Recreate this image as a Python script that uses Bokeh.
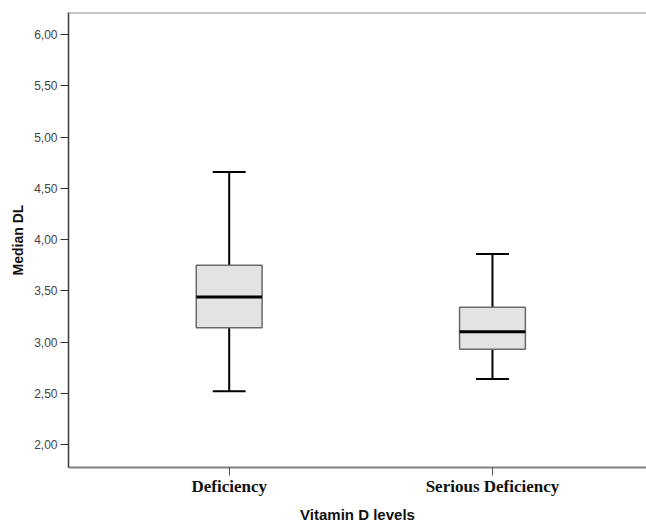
import pandas as pd
from bokeh.plotting import figure
from bokeh.models import ColumnDataSource, FixedTicker, CustomJSTickFormatter, Range1d, Span
from bokeh.embed import file_html
from bokeh.resources import INLINE

# ---- data ----
categories = ["Deficiency", "Serious Deficiency"]
lower_whisker = [2.52, 2.64]
q1 = [3.14, 2.93]
median = [3.44, 3.10]
q3 = [3.75, 3.34]
upper_whisker = [4.66, 3.86]
y_ticks = [2.0, 2.5, 3.0, 3.5, 4.0, 4.5, 5.0, 5.5, 6.0]

BOX_W = 0.25
CAP_W = 0.125
Y_MIN, Y_MAX = 1.776, 6.215

xpos = [i + 1 for i in range(len(categories))]
df = pd.DataFrame(dict(x=xpos, cat=categories, lo=lower_whisker, q1=q1,
                       med=median, q3=q3, hi=upper_whisker))
df["bl"] = df["x"] - BOX_W / 2
df["br"] = df["x"] + BOX_W / 2
df["cl"] = df["x"] - CAP_W / 2
df["cr"] = df["x"] + CAP_W / 2
src = ColumnDataSource(df)

p = figure(width=646, height=525, output_backend="svg", toolbar_location=None,
           x_range=Range1d(0.3897, 2.585), y_range=Range1d(Y_MIN, Y_MAX),
           min_border_left=68, min_border_top=12, min_border_right=0,
           min_border_bottom=10)
p.outline_line_color = None
p.xgrid.visible = False
p.ygrid.visible = False
p.background_fill_color = "white"
p.border_fill_color = "white"

# top frame line
p.add_layout(Span(location=Y_MAX, dimension="width", line_color="#8c8c8c", line_width=2))

# whisker stems
p.segment(x0="x", y0="q3", x1="x", y1="hi", source=src, line_color="black", line_width=2)
p.segment(x0="x", y0="lo", x1="x", y1="q1", source=src, line_color="black", line_width=2)
# caps
p.segment(x0="cl", y0="hi", x1="cr", y1="hi", source=src, line_color="black", line_width=2)
p.segment(x0="cl", y0="lo", x1="cr", y1="lo", source=src, line_color="black", line_width=2)
# boxes
p.vbar(x="x", width=BOX_W, bottom="q1", top="q3", source=src,
       fill_color="#e3e3e3", line_color="#6a6a6a", line_width=1.5)
# medians
p.segment(x0="bl", y0="med", x1="br", y1="med", source=src, line_color="black", line_width=3)

# x axis
xa = p.xaxis[0]
xa.ticker = FixedTicker(ticks=xpos)
xa.major_label_overrides = {x: c for x, c in zip(xpos, categories)}
xa.minor_tick_line_color = None
xa.major_tick_in = 0
xa.major_tick_out = 8
xa.major_tick_line_color = "#555555"
xa.axis_line_color = "#808080"
xa.axis_line_width = 2
xa.major_label_text_font = "Liberation Serif"
xa.major_label_text_font_style = "bold"
xa.major_label_text_font_size = "17px"
xa.major_label_text_color = "#111111"
xa.major_label_standoff = 1
xa.axis_label = "Vitamin D levels"
xa.axis_label_text_font = "Liberation Sans"
xa.axis_label_text_font_style = "bold"
xa.axis_label_text_font_size = "15px"
xa.axis_label_text_color = "#111111"
xa.axis_label_standoff = 7

# y axis
ya = p.yaxis[0]
ya.ticker = FixedTicker(ticks=y_ticks)
ya.formatter = CustomJSTickFormatter(code="return tick.toFixed(2).replace('.', ',');")
ya.minor_tick_line_color = None
ya.major_tick_in = 0
ya.major_tick_out = 8
ya.major_tick_line_color = "#333333"
ya.axis_line_color = "#3a3a3a"
ya.axis_line_width = 1.5
ya.major_label_text_font = "Liberation Sans"
ya.major_label_text_font_size = "12px"
ya.major_label_text_color = "#444444"
ya.major_label_standoff = 3
ya.axis_label = "Median DL"
ya.axis_label_text_font = "Liberation Sans"
ya.axis_label_text_font_style = "bold"
ya.axis_label_text_font_size = "14px"
ya.axis_label_text_color = "#111111"
ya.axis_label_standoff = 5

open("out.html", "w").write(file_html(p, INLINE))
